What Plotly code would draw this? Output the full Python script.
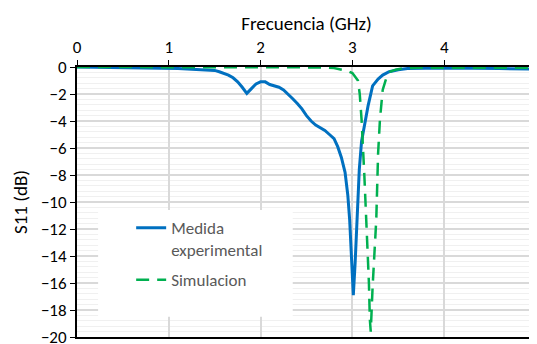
import plotly.graph_objects as go

# Measured (Medida experimental)
meas_x = [0, 0.2, 0.4, 0.6, 0.8, 1.0, 1.1, 1.2, 1.3, 1.4, 1.5, 1.55, 1.6, 1.65, 1.7, 1.75, 1.8, 1.85,
          1.9, 1.95, 2.0, 2.05, 2.1, 2.15, 2.2, 2.25, 2.3, 2.35, 2.4, 2.45, 2.5, 2.55, 2.6, 2.65, 2.7,
          2.75, 2.8, 2.84, 2.88, 2.92, 2.95, 2.97, 2.99, 3.01, 3.03, 3.05, 3.075, 3.1, 3.14, 3.17,
          3.22, 3.28, 3.33, 3.4, 3.5, 3.6, 3.8, 4.0, 4.3, 4.6, 5.0]
meas_y = [0, -0.02, -0.05, -0.03, -0.05, -0.08, -0.12, -0.15, -0.2, -0.22, -0.25, -0.35, -0.45, -0.6,
          -0.8, -1.1, -1.5, -1.95, -1.6, -1.25, -1.1, -1.1, -1.3, -1.4, -1.5, -1.7, -2.0, -2.35, -2.7,
          -3.1, -3.6, -4.0, -4.3, -4.5, -4.7, -5.0, -5.3, -5.9, -6.7, -7.8, -9.5, -11.3, -14.0, -16.9,
          -14.5, -11.3, -7.6, -5.5, -3.9, -2.9, -1.4, -0.9, -0.6, -0.35, -0.2, -0.12, -0.1, -0.08,
          -0.1, -0.12, -0.15]

# Simulation (Simulacion)
sim_x = [0, 0.5, 1.0, 1.5, 2.0, 2.5, 2.7, 2.8, 2.9, 2.95, 3.0, 3.03, 3.06, 3.08, 3.1, 3.13, 3.16,
         3.18, 3.19, 3.2, 3.22, 3.24, 3.26, 3.28, 3.3, 3.33, 3.37, 3.41, 3.47, 3.55, 3.7, 4.0, 4.5, 5.0]
sim_y = [0, 0, 0, 0, 0, -0.01, -0.03, -0.08, -0.2, -0.3, -0.45, -0.7, -1.0, -2.0, -3.9, -8.0, -12.6,
         -16.0, -18.7, -19.6, -16.3, -13.8, -11.3, -6.4, -3.9, -1.7, -0.8, -0.35, -0.2, -0.1, -0.05,
         -0.05, -0.05, -0.05]

x_ticks = [0, 1, 2, 3, 4, 5]
y_ticks = list(range(-20, 1, 2))

FONT = "Carlito, Lato, sans-serif"

fig = go.Figure()
fig.add_trace(go.Scatter(x=meas_x, y=meas_y, mode="lines", name="Medida<br>experimental",
                         legendgroup="meas",
                         line=dict(color="#0070C0", width=3)))
fig.add_trace(go.Scatter(x=sim_x, y=sim_y, mode="lines", name="Simulacion",
                         legendgroup="sim",
                         line=dict(color="#00B050", width=2.5, dash="13px,8px")))

# white legend panel covering the gridlines (above grid, below traces)
fig.add_shape(type="rect", xref="x", yref="y", x0=0.23, x1=2.35, y0=-18.5, y1=-10.6,
              fillcolor="white", line=dict(width=0), layer="between")

# page body has an 8px default margin, so the figure is sized to fill the rest of the window
fig.update_layout(
    width=529, height=336,
    margin=dict(l=69, r=1, t=59, b=7, autoexpand=False),
    paper_bgcolor="white", plot_bgcolor="white",
    font=dict(family=FONT, size=17, color="#000000"),
    showlegend=True,
    legend=dict(x=0.118, y=0.47, xanchor="left", yanchor="top", bgcolor="rgba(0,0,0,0)",
                font=dict(family=FONT, size=17, color="#595959"), valign="top",
                tracegroupgap=5),
    xaxis=dict(range=[0, 5], side="top", tickvals=x_ticks, ticks="outside", ticklen=5,
               tickcolor="black", showline=True, linecolor="black", linewidth=1.5, mirror=True,
               showgrid=True, gridcolor="#d9d9d9", gridwidth=1.5, zeroline=False, automargin=False,
               tickfont=dict(size=17), ticklabeloverflow="allow",
               title=dict(text="Frecuencia (GHz)", font=dict(size=19), standoff=2)),
    yaxis=dict(range=[-20, 0], tickvals=y_ticks, ticks="outside", ticklen=5, tickcolor="black",
               showline=True, linecolor="black", linewidth=2, mirror=True, automargin=False,
               showgrid=True, gridcolor="#d9d9d9", gridwidth=1.5, zeroline=False,
               tickfont=dict(size=17), ticklabeloverflow="allow",
               minor=dict(dtick=0.4, showgrid=True, gridcolor="#f0f0f0", gridwidth=1),
               title=dict(text="S11 (dB)", font=dict(size=19), standoff=8)),
)

fig.write_html("out.html")
